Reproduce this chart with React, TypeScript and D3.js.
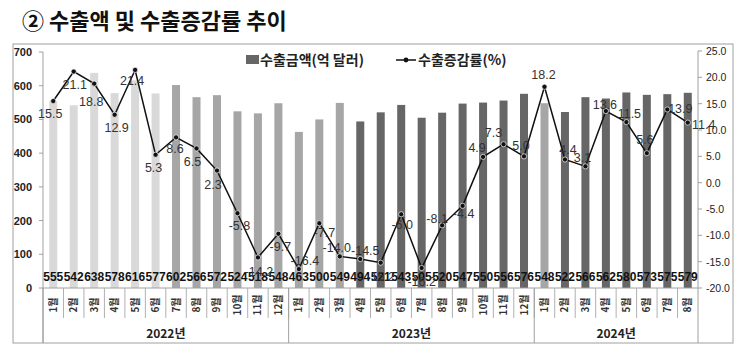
import React from "react";
import * as d3 from "d3";

const months = [
  "1월","2월","3월","4월","5월","6월","7월","8월","9월","10월","11월","12월",
  "1월","2월","3월","4월","5월","6월","7월","8월","9월","10월","11월","12월",
  "1월","2월","3월","4월","5월","6월","7월","8월",
];
const years = ["2022년", "2023년", "2024년"];
const yearMonthCounts = [12, 12, 8];
const exportAmount = [
  555, 542, 638, 578, 616, 577, 602, 566, 572, 524, 518, 548,
  463, 500, 549, 494, 521, 543, 505, 520, 547, 550, 556, 576,
  548, 522, 566, 562, 580, 573, 575, 579,
];
const growthRate = [
  15.5, 21.1, 18.8, 12.9, 21.4, 5.3, 8.6, 6.5, 2.3, -5.8, -14.2, -9.7,
  -16.4, -7.7, -14.0, -14.5, -15.2, -6.0, -16.2, -8.1, -4.4, 4.9, 7.3, 5.0,
  18.2, 4.4, 3.1, 13.6, 11.5, 5.6, 13.9, 11.4,
];
const leftTicks = [0, 100, 200, 300, 400, 500, 600, 700];
const rightTicks = [-20, -15, -10, -5, 0, 5, 10, 15, 20, 25];
const legendLabels = ["수출금액(억 달러)", "수출증감률(%)"];
const title = "② 수출액 및 수출증감률 추이";

// style: bar tone per month (0 light, 1 medium, 2 dark)
const barTone = [
  0,0,0,0,0,0,1,1,1,1,1,1,
  1,1,1,2,2,2,2,2,2,2,2,2,
  1,2,2,2,2,2,2,2,
];
const toneColor = ["#d9d9d9", "#a6a6a6", "#666666"];
// style: label placement per point
const labelPlace: [number, number][] = [
  [-3, 13], [1, 13], [-3, 18], [2, 13], [-3, 11], [-2, 13], [-1, 12], [-4, 14],
  [-4, 14], [2, 13], [1, 15], [2, 13],
  [6, -8], [5, 10], [-3, -8], [5, -8], [0, 14], [1, 11], [0, 14], [-5, -6],
  [1, 8], [-6, -9], [-10, -11], [-3, -10],
  [-1, -12], [3, -9], [-3, -8], [-1, -6], [3, -8], [-2, -13], [13, 0], [16, 2],
];

const W = 743;
const H = 355;
const X0 = 43;
const X1 = 698;
const Y0 = 288;

export default function App() {
  const x = d3.scaleBand<number>().domain(d3.range(months.length)).range([X0, X1]).padding(0);
  const yL = d3.scaleLinear().domain([0, 700]).range([Y0, 52]);
  const yR = d3.scaleLinear().domain([-20, 25]).range([Y0, 51]);
  const bw = 8;
  const cx = (i: number) => (x(i) as number) + x.bandwidth() / 2;

  const line = d3
    .line<number>()
    .x((_, i) => cx(i))
    .y((d) => yR(d));

  const numFont = "'Liberation Sans', Arial, sans-serif";
  const krFont = "'Noto Sans CJK KR', 'Noto Sans', sans-serif";

  let acc = 0;
  const yearBounds = yearMonthCounts.map((n) => {
    const s = acc;
    acc += n;
    return [s, acc];
  });

  return (
    <svg
      width={W}
      height={H}
      style={{ position: "absolute", left: 0, top: 0, background: "#fff" }}
      fontFamily={numFont}
    >
      <text x={22} y={29} fontFamily={krFont} fontWeight={700} fontSize={22} fill="#111">
        {title}
      </text>
      {/* frame */}
      <rect x={13} y={44} width={720} height={299} fill="none" stroke="#a0a0a0" strokeWidth={1} />

      {/* bars */}
      {exportAmount.map((v, i) => (
        <rect
          key={"b" + i}
          x={cx(i) - bw / 2}
          y={yL(v)}
          width={bw}
          height={Y0 - yL(v)}
          fill={toneColor[barTone[i]]}
        />
      ))}

      {/* axes */}
      <line x1={X0} x2={X0} y1={52} y2={343} stroke="#a0a0a0" />
      <line x1={X1} x2={X1} y1={51} y2={343} stroke="#a0a0a0" />
      <line x1={X0} x2={X1} y1={Y0} y2={Y0} stroke="#a0a0a0" />
      {leftTicks.map((t) => (
        <g key={"lt" + t}>
          <line x1={X0 - 4} x2={X0} y1={yL(t)} y2={yL(t)} stroke="#a0a0a0" />
          <text x={32} y={yL(t) + 4} textAnchor="end" fontSize={11} fontWeight={700} fill="#222">
            {t}
          </text>
        </g>
      ))}
      {rightTicks.map((t) => (
        <g key={"rt" + t}>
          <line x1={X1} x2={X1 + 4} y1={yR(t)} y2={yR(t)} stroke="#a0a0a0" />
          <text x={706} y={yR(t) + 4} textAnchor="start" fontSize={10.5} fill="#222">
            {t.toFixed(1)}
          </text>
        </g>
      ))}

      {/* month cells */}
      {months.map((m, i) => (
        <g key={"m" + i}>
          {i > 0 && (
            <line x1={x(i) as number} x2={x(i) as number} y1={Y0} y2={318} stroke="#b0b0b0" />
          )}
          <text
            transform={`translate(${cx(i) + 3.5},305) rotate(-90)`}
            textAnchor="middle"
            fontFamily={krFont}
            fontSize={10}
            fontWeight={700}
            fill="#333"
          >
            {m}
          </text>
        </g>
      ))}
      {yearBounds.map(([s, e], k) => (
        <g key={"y" + k}>
          <line
            x1={x(s) as number}
            x2={x(s) as number}
            y1={Y0}
            y2={343}
            stroke="#a0a0a0"
          />
          <text
            x={((x(s) as number) + (x(e - 1) as number) + x.bandwidth()) / 2}
            y={338}
            textAnchor="middle"
            fontFamily={krFont}
            fontSize={12}
            fontWeight={700}
            fill="#222"
          >
            {years[k]}
          </text>
        </g>
      ))}

      {/* bar value labels */}
      {exportAmount.map((v, i) => (
        <text
          key={"bl" + i}
          x={cx(i)}
          y={281}
          textAnchor="middle"
          fontSize={12}
          fontWeight={700}
          fill="#111"
        >
          {v}
        </text>
      ))}

      {/* line */}
      <path d={line(growthRate) || ""} fill="none" stroke="#111" strokeWidth={1.5} />
      {growthRate.map((v, i) => (
        <circle key={"c" + i} cx={cx(i)} cy={yR(v)} r={2.6} fill="#111" stroke="#fff" strokeWidth={0.7} />
      ))}
      {growthRate.map((v, i) => (
        <text
          key={"ll" + i}
          x={cx(i) + labelPlace[i][0]}
          y={yR(v) + labelPlace[i][1] + 4}
          textAnchor="middle"
          fontSize={12.5}
          fill="#333"
        >
          {v.toFixed(1)}
        </text>
      ))}

      {/* legend */}
      <rect x={246} y={55} width={13} height={9} fill="#666666" />
      <text x={260} y={65} fontFamily={krFont} fontSize={14} fontWeight={700} fill="#222">
        {legendLabels[0]}
      </text>
      <line x1={396} x2={416} y1={60} y2={60} stroke="#111" strokeWidth={1.5} />
      <circle cx={406} cy={60} r={2.4} fill="#111" />
      <text x={418} y={65} fontFamily={krFont} fontSize={14} fontWeight={700} fill="#222">
        {legendLabels[1]}
      </text>
    </svg>
  );
}
